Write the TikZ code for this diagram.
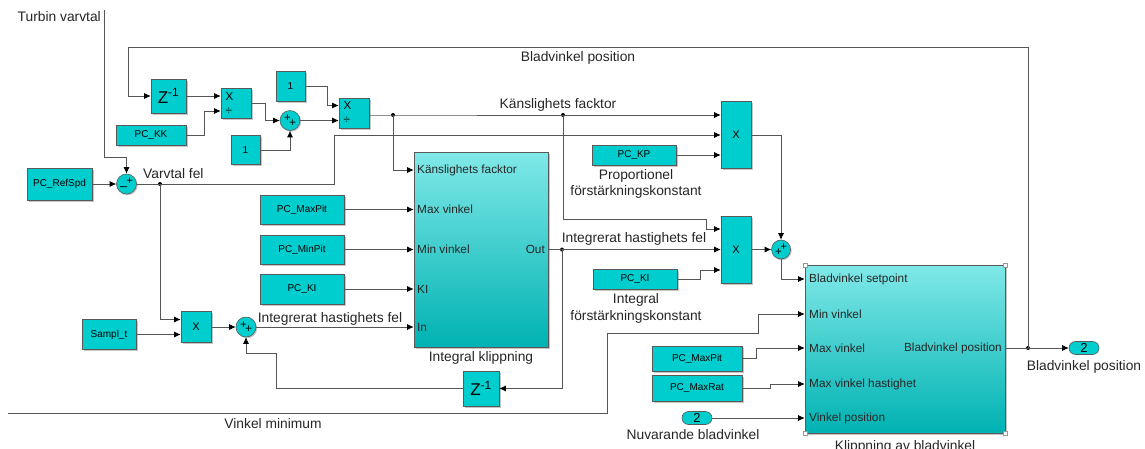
\documentclass[tikz,border=0pt]{standalone}
\usepackage{fontspec}
\setmainfont{Liberation Sans}
\usepackage{tikz}
\usetikzlibrary{arrows.meta,shadows}

\definecolor{simcyan}{RGB}{0,206,206}
\definecolor{subtop}{RGB}{128,232,232}
\definecolor{submid}{RGB}{96,222,222}
\definecolor{subbot}{RGB}{0,178,178}
\definecolor{wiregray}{RGB}{85,85,85}

\begin{document}
\begin{tikzpicture}[x=1pt,y=-1pt]
\tikzset{block/.style = {shape=rectangle,draw=black!65,fill=simcyan,line width=0.6pt,inner sep=0pt,
  drop shadow={shadow xshift=1.5pt,shadow yshift=-1.5pt,fill=black!45,opacity=0.5},
  font=\fontsize{10}{12}\selectfont}}
\tikzset{subsys/.style = {block,top color=subtop,middle color=submid,bottom color=subbot}}
\tikzset{sumblk/.style = {shape=circle,draw=black!65,fill=simcyan,line width=0.6pt,minimum size=20pt,inner sep=0pt,
  drop shadow={shadow xshift=1.2pt,shadow yshift=-1.2pt,fill=black!45,opacity=0.5},
  font=\fontsize{11.5}{11.5}\selectfont}}
\tikzset{ioport/.style = {shape=rectangle,rounded corners=6.5pt,draw=black!65,fill=simcyan,line width=0.6pt,
  minimum width=30pt,minimum height=13pt,inner sep=0pt,font=\fontsize{13}{13}\selectfont}}
\tikzset{edge/.style = {->,> = {Latex[length=6.5pt,width=6pt,color=black]},draw=wiregray,line width=0.7pt}}
\tikzset{wire/.style = {draw=wiregray,line width=0.7pt}}
\tikzset{lbl/.style = {font=\fontsize{13.8}{16.5}\selectfont,text=black!85,inner sep=0pt}}
\tikzset{portlbl/.style = {font=\fontsize{11.8}{13}\selectfont,text=black!85,inner sep=0pt}}
\tikzset{zblk/.style = {block,font=\fontsize{17}{17}\selectfont}}
\tikzset{divblk/.style = {block,minimum size=30pt,align=left,text width=21pt,font=\fontsize{11.5}{14}\selectfont}}
\tikzset{mulblk/.style = {block,font=\fontsize{11}{11}\selectfont}}
\useasboundingbox (0,0) rectangle (1145,448);

% blocks
\node[zblk, minimum width=35pt, minimum height=34pt] (z1) at (168.5,96) {Z\textsuperscript{-1}};
\node[divblk] (d1) at (236,103.5) {X\\÷};
\node[block, minimum width=70pt, minimum height=20pt] (kk) at (151,135) {PC\_KK};
\node[block, minimum width=29pt, minimum height=30pt] (c1) at (290.5,86) {1};
\node[block, minimum width=29pt, minimum height=29pt] (c2) at (245.5,150) {1};
\node[sumblk] (s1) at (290,120.5) {\raisebox{1.5pt}{+}\kern-1.5pt\raisebox{-3pt}{+}};
\node[divblk] (d2) at (354,113) {X\\÷};
\node[block, minimum width=65pt, minimum height=32pt] (rs) at (59.5,184) {PC\_RefSpd};
\node[sumblk] (s0) at (126.5,184) {\raisebox{-3pt}{\fontsize{13}{13}\selectfont –}\kern-1pt\raisebox{2.5pt}{+}};
\node[mulblk, minimum width=30pt, minimum height=67pt] (p3) at (736,135) {X};
\node[block, minimum width=84pt, minimum height=20pt] (kp) at (634,155) {PC\_KP};
\node[mulblk, minimum width=30pt, minimum height=67pt] (p4) at (736,249.5) {X};
\node[block, minimum width=84pt, minimum height=20pt] (ki2) at (635,279) {PC\_KI};
\node[sumblk, minimum size=19pt] (s2) at (781,249.5) {\raisebox{-3pt}{+}\kern-1.5pt\raisebox{2pt}{+}};
\node[subsys, minimum width=134pt, minimum height=195pt] (ik) at (481,249.5) {};
\node[block, minimum width=84pt, minimum height=29pt] (mp1) at (302,209.5) {PC\_MaxPit};
\node[block, minimum width=84pt, minimum height=29pt] (mn) at (302,249.5) {PC\_MinPit};
\node[block, minimum width=84pt, minimum height=30pt] (ki1) at (302,289) {PC\_KI};
\node[mulblk, minimum width=30pt, minimum height=31pt] (p5) at (196,327) {X};
\node[block, minimum width=54pt, minimum height=30pt] (st) at (109,334.5) {Sampl\_t};
\node[sumblk] (s3) at (246,327) {\raisebox{1.5pt}{+}\kern-1.5pt\raisebox{-3pt}{+}};
\node[zblk, minimum width=36pt, minimum height=35pt] (z2) at (481,388.5) {Z\textsuperscript{-1}};
\node[subsys, minimum width=200pt, minimum height=168pt] (kab) at (905,349) {};
\node[block, minimum width=90pt, minimum height=25pt] (mp2) at (697,358.5) {PC\_MaxPit};
\node[block, minimum width=90pt, minimum height=26pt] (mr) at (697,388) {PC\_MaxRat};
\node[ioport] (inp) at (697,418) {2};
\node[ioport] (outp) at (1084,348) {2};
\foreach \c in {north west,north east,south west,south east}
  \draw[black!40,fill=white,line width=0.4pt] ([xshift=-2pt,yshift=-2pt]kab.\c) rectangle ++(4pt,4pt);

% ports inside subsystems
\node[portlbl, anchor=west] (ikk) at (417,170) {Känslighets facktor};
\node[portlbl, anchor=west] (ikx) at (417,209.5) {Max vinkel};
\node[portlbl, anchor=west] (ikn) at (417,249.5) {Min vinkel};
\node[portlbl, anchor=west] (iki) at (417,289) {KI};
\node[portlbl, anchor=west] (iki2) at (417,327) {In};
\node[portlbl, anchor=east] (iko) at (545,249.5) {Out};
\node[portlbl, anchor=west] (kbs) at (809,279) {Bladvinkel setpoint};
\node[portlbl, anchor=west] (kbm) at (809,314) {Min vinkel};
\node[portlbl, anchor=west] (kbx) at (809,348) {Max vinkel};
\node[portlbl, anchor=west] (kbh) at (809,384) {Max vinkel hastighet};
\node[portlbl, anchor=west] (kbv) at (809,418) {Vinkel position};
\node[portlbl, anchor=east] (kbo) at (1002,348) {Bladvinkel position};

% labels
\node[lbl, anchor=east] (tvl) at (101,17) {Turbin varvtal};
\node[lbl] (bpl) at (578,58) {Bladvinkel position};
\node[lbl] (kfl) at (558,105) {Känslighets facktor};
\node[lbl, anchor=west] (vfl) at (143,174) {Varvtal fel};
\node[lbl, align=center] (kpl) at (636,184) {Proportionel\\förstärkningskonstant};
\node[lbl, align=center] (kil) at (636,308.5) {Integral\\förstärkningskonstant};
\node[lbl] (ihf1) at (330,319) {Integrerat hastighets fel};
\node[lbl] (ihf2) at (634,239) {Integrerat hastighets fel};
\node[lbl] (ikl) at (481,358) {Integral klippning};
\node[lbl] (vml) at (273,424) {Vinkel minimum};
\node[lbl] (nbl) at (693,435) {Nuvarande bladvinkel};
\node[lbl] (bpo) at (1084,367) {Bladvinkel position};
\node[lbl, anchor=north] (kabl) at (905,440.5) {Klippning av bladvinkel};

% junctions
\coordinate (tv) at (104,10);
\coordinate (vm) at (8,413);
\coordinate (j1) at (160,184);
\coordinate (j2) at (393,115);
\coordinate (j3) at (563,115);
\coordinate (j4) at (562,249.5);
\coordinate (j5) at (1028,348);
\foreach \j in {j1,j2,j3,j4,j5} \fill[black] (\j) circle (2pt);

% signals
\draw[edge] (tv) -- (104,157) -| (s0.north);
\draw[edge] (rs.east) -- (s0.west);
\draw[wire] (s0.east) -- (j1);
\draw[edge] (j1) -- (334,184) -- (334,135) -- (p3.west);
\draw[edge] (j1) |- ([yshift=7.5pt]p5.west);
\draw[edge] (st.east) -- ([yshift=-7.5pt]p5.west);
\draw[edge] (p5.east) -- (s3.west);
\draw[edge] (s3.east) -- (ik.west |- iki2);
\draw[edge] (z2.west) -- (276,388.5) -- (276,353) -| (s3.south);
\draw[edge] (mp1.east) -- (ik.west |- ikx);
\draw[edge] (mn.east) -- (ik.west |- ikn);
\draw[edge] (ki1.east) -- (ik.west |- iki);
\draw[edge] (j2) |- (ik.west |- ikk);
\draw[edge] (j5) -- (1028,47) -- (128,47) |- (z1.west);
\draw[edge] (z1.east) -- ([yshift=7.5pt]d1.west);
\draw[edge] (kk.east) -- (204,135) |- ([yshift=-7.5pt]d1.west);
\draw[edge] (d1.east) -- (265,103.5) |- (s1.west);
\draw[edge] (c2.east) -| (s1.south);
\draw[edge] (c1.east) -- (327,86) |- ([yshift=7.5pt]d2.west);
\draw[edge] (s1.east) -- ([yshift=-7.5pt]d2.west);
\draw[wire] (d2.east |- j2) -- (j2) -- (j3);
\draw[edge] (j3) -- ([yshift=20pt]p3.west);
\draw[edge] (kp.east) -- ([yshift=-20pt]p3.west);
\draw[edge] (p3.east) -| (s2.north);
\draw[edge] (j3) -- (563,219) -- (706,219) |- ([yshift=20.5pt]p4.west);
\draw[wire] (ik.east) -- (j4);
\draw[edge] (j4) -- (p4.west);
\draw[edge] (j4) |- (z2.east);
\draw[edge] (ki2.east) -- (700,279) |- ([yshift=-20.5pt]p4.west);
\draw[edge] (p4.east) -- (s2.west);
\draw[edge] (s2.south) |- (kab.west |- kbs);
\draw[edge] (vm) -- (607,413) -- (607,333) -- (758,333) |- (kab.west |- kbm);
\draw[edge] (mp2.east) -- (756,358.5) |- (kab.west |- kbx);
\draw[edge] (mr.east) -- (770,388) |- (kab.west |- kbh);
\draw[edge] (inp.east) -- (kab.west |- kbv);
\draw[wire] (kab.east |- j5) -- (j5);
\draw[edge] (j5) -- (outp.west);
\end{tikzpicture}
\end{document}
